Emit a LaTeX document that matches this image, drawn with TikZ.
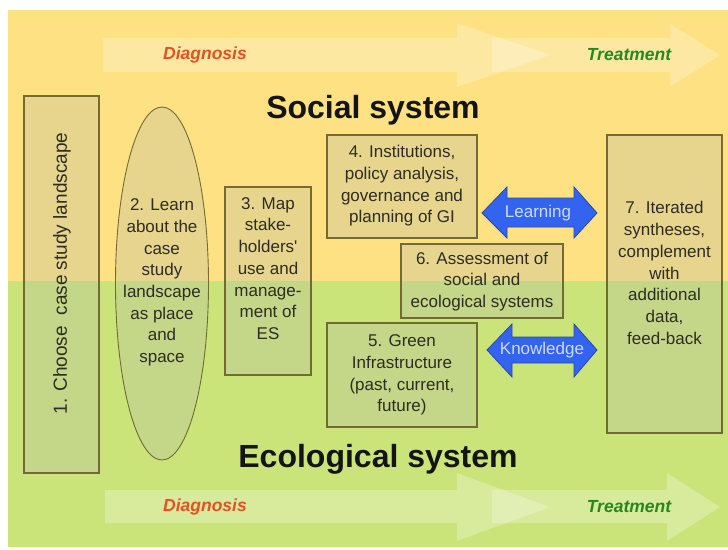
\documentclass[tikz,border=0pt]{standalone}
\usepackage{fontspec}
\setmainfont{Liberation Sans}
\usetikzlibrary{shapes.geometric}
\definecolor{bgyellow}{RGB}{253,225,130}
\definecolor{bggreen}{RGB}{203,228,122}
\definecolor{boxfill}{RGB}{181,184,168}
\definecolor{boxline}{RGB}{105,95,45}
\definecolor{diagred}{RGB}{228,80,40}
\definecolor{treatgreen}{RGB}{40,135,35}
\definecolor{arrowblue}{RGB}{50,100,240}
\definecolor{arrowedge}{RGB}{40,70,170}
\definecolor{arrowtext}{RGB}{205,220,255}
\definecolor{boxtext}{RGB}{45,45,35}
\begin{document}
\begin{tikzpicture}[x=1pt,y=-1pt,
  box/.style={rectangle, draw=boxline, line width=1.1pt, fill=boxfill, fill opacity=0.3, draw opacity=0.9, inner sep=0pt},
  boxtxt/.style={text=boxtext, align=center, inner sep=0pt, font=\fontsize{17}{21.7}\selectfont},
  bigarrow/.style={fill=white, fill opacity=0.25, draw=none},
  bluearrow/.style={fill=arrowblue, draw=arrowedge, line width=0.8pt},
  arrowlbl/.style={text=arrowtext, inner sep=0pt, font=\fontsize{17}{20}\selectfont},
  diag/.style={text=diagred, inner sep=0pt, font=\fontsize{17.5}{20}\selectfont\bfseries\itshape},
  treat/.style={text=treatgreen, inner sep=0pt, font=\fontsize{17.5}{20}\selectfont\bfseries\itshape},
  systitle/.style={text={rgb,255:red,20;green,20;blue,20}, inner sep=0pt, anchor=base, font=\fontsize{32}{36}\selectfont\bfseries}]
\useasboundingbox (0,0) rectangle (728,549);
\fill[white] (0,0) rectangle (728,549);
\fill[bgyellow] (8,10) rectangle (728,281);
\fill[bggreen] (8,281) rectangle (728,547);

% big background arrows (top)
\path[bigarrow] (103,38) -- (457,38) -- (457,23) -- (550,55) -- (457,87) -- (457,72) -- (103,72) -- cycle;
\path[bigarrow] (492,38) -- (670,38) -- (670,24) -- (720,55) -- (670,87) -- (670,72) -- (492,72) -- cycle;
% big background arrows (bottom)
\path[bigarrow] (105,490) -- (457,490) -- (457,473) -- (550,507) -- (457,541) -- (457,523) -- (105,523) -- cycle;
\path[bigarrow] (492,490) -- (667,490) -- (667,473) -- (720,507) -- (667,541) -- (667,523) -- (492,523) -- cycle;

\node[diag] (d1) at (205,55) {Diagnosis};
\node[treat] (t1) at (629,55) {Treatment};
\node[diag] (d2) at (205,507) {Diagnosis};
\node[treat] (t2) at (629,507) {Treatment};

\node[systitle] (soc) at (373,118) {Social system};
\node[systitle] (eco) at (378,467) {Ecological system};

% boxes
\node[box, minimum width=75pt, minimum height=377pt] (b1) at (61.5,284.5) {};
\node[box, ellipse, line width=0.9pt, minimum width=93pt, minimum height=353pt] (b2) at (162,283.5) {};
\node[box, minimum width=86pt, minimum height=188pt] (b3) at (268,281) {};
\node[box, minimum width=150pt, minimum height=103pt] (b4) at (402,186.5) {};
\node[box, minimum width=162pt, minimum height=74pt] (b6) at (482,281) {};
\node[box, minimum width=150pt, minimum height=104pt] (b5) at (402,375) {};
\node[box, minimum width=115pt, minimum height=298pt] (b7) at (664.5,284) {};

% texts
\node[boxtxt, rotate=90, font=\fontsize{19}{22}\selectfont] (t1txt) at (62,273.5) {1. Choose\ \ case study landscape};
\node[boxtxt] (t2txt) at (162,282.5) {2. Learn\\about the\\case\\study\\landscape\\as place\\and\\space};
\node[boxtxt] (t3txt) at (268,268.5) {3. Map\\stake-\\holders\textquotesingle\\use and\\manage-\\ment of\\ES};
\node[boxtxt] (t4txt) at (402,186) {4. Institutions,\\policy analysis,\\governance and\\planning of GI};
\node[boxtxt] (t6txt) at (482,281.5) {6. Assessment of\\social and\\ecological systems};
\node[boxtxt] (t5txt) at (402,375) {5. Green\\Infrastructure\\(past, current,\\future)};
\node[boxtxt] (t7txt) at (664.5,273) {7. Iterated\\syntheses,\\complement\\with\\additional\\data,\\feed-back};

% blue double arrows
\path[bluearrow] (482,213) -- (507,187) -- (507,198) -- (574,198) -- (574,187) -- (597,213) -- (574,238) -- (574,227) -- (507,227) -- (507,238) -- cycle;
\node[arrowlbl] (learn) at (538,213) {Learning};
\path[bluearrow] (487,350) -- (512,324) -- (512,337) -- (574,337) -- (574,324) -- (597,350) -- (574,377) -- (574,363) -- (512,363) -- (512,377) -- cycle;
\node[arrowlbl] (know) at (542,350) {Knowledge};
\end{tikzpicture}
\end{document}
